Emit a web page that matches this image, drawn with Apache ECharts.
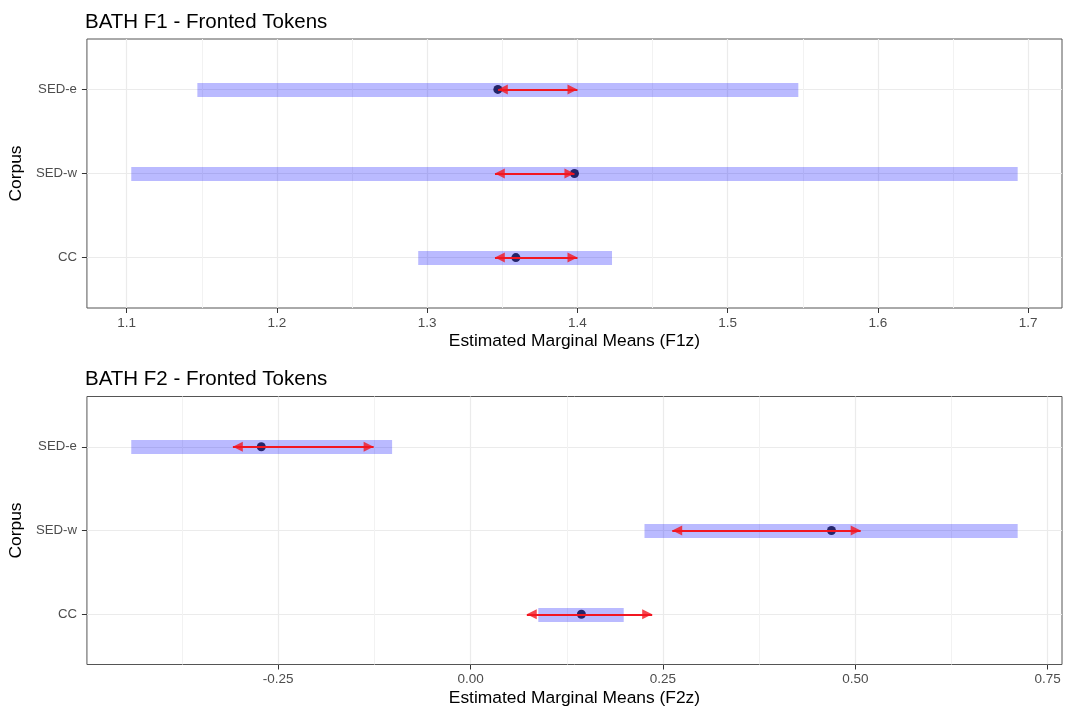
<!DOCTYPE html>
<html>
<head>
<meta charset="utf-8">
<script src="https://cdn.jsdelivr.net/npm/echarts@6/dist/echarts.min.js"></script>
<style>
html,body{margin:0;padding:0;background:#fff;}
#chart{width:1065px;height:709px;}
</style>
</head>
<body>
<div id="chart"></div>
<script>
// ---- data ----
const corpora = ['CC', 'SED-w', 'SED-e'];

// Panel 1: BATH F1
const f1Lower = [1.294, 1.103, 1.147];
const f1Upper = [1.423, 1.693, 1.547];
const f1Mean  = [1.359, 1.398, 1.347];
const f1ArrowLeft  = [1.345, 1.345, 1.347];
const f1ArrowRight = [1.400, 1.398, 1.400];
const f1Ticks = [1.1, 1.2, 1.3, 1.4, 1.5, 1.6, 1.7];
const f1MinorTicks = [1.15, 1.25, 1.35, 1.45, 1.55, 1.65];

// Panel 2: BATH F2
const f2Lower = [0.088, 0.226, -0.441];
const f2Upper = [0.199, 0.711, -0.102];
const f2Mean  = [0.144, 0.469, -0.272];
const f2ArrowLeft  = [0.073, 0.262, -0.309];
const f2ArrowRight = [0.236, 0.507, -0.126];
const f2Ticks = [-0.25, 0, 0.25, 0.5, 0.75];
const f2MinorTicks = [-0.375, -0.125, 0.125, 0.375, 0.625];

const titles = ['BATH F1 - Fronted Tokens', 'BATH F2 - Fronted Tokens'];
const xNames = ['Estimated Marginal Means (F1z)', 'Estimated Marginal Means (F2z)'];
const yName = 'Corpus';

// ---- chart ----
const FONT = '"Liberation Sans", Arial, Helvetica, sans-serif';
const chart = echarts.init(document.getElementById('chart'), null, {renderer: 'canvas'});

function extent(lo, hi) {
  const a = Math.min.apply(null, lo), b = Math.max.apply(null, hi);
  const p = (b - a) * 0.05;
  return [a - p, b + p];
}
const e1 = extent(f1Lower, f1Upper);
const e2 = extent(f2Lower, f2Upper);
const catValues = corpora.map((c, i) => i + 1);

const grids = [
  {left: 84, right: 3, top: 39, height: 269},
  {left: 84, right: 3, top: 396.5, height: 268}
];

function mkX(idx, ext, ticks, fmt, name) {
  return {
    type: 'value', gridIndex: idx, min: ext[0], max: ext[1], position: 'bottom',
    name: name, nameLocation: 'middle', nameGap: 25,
    nameTextStyle: {fontFamily: FONT, fontSize: 17.4, color: '#000'},
    axisLine: {show: false, onZero: false},
    axisTick: {show: true, length: 5, lineStyle: {color: '#333', width: 1}, customValues: ticks},
    axisLabel: {customValues: ticks, formatter: fmt, fontFamily: FONT, fontSize: 13.5, color: '#4D4D4D', margin: 8},
    splitLine: {show: true, lineStyle: {color: '#EBEBEB', width: 1.2}},
    minorTick: {show: false}, minorSplitLine: {show: false}
  };
}
function mkXMinor(idx, ext, minor) {
  return {
    type: 'value', gridIndex: idx, min: ext[0], max: ext[1], position: 'bottom',
    axisLine: {show: false, onZero: false},
    axisTick: {show: false, customValues: minor},
    axisLabel: {show: false, customValues: minor},
    splitLine: {show: true, lineStyle: {color: '#F2F2F2', width: 1}}
  };
}
function mkY(idx) {
  return {
    type: 'value', gridIndex: idx, min: 0.4, max: 3.6, position: 'left',
    name: yName, nameLocation: 'middle', nameGap: 55, nameRotate: 90,
    nameTextStyle: {fontFamily: FONT, fontSize: 17.4, color: '#000'},
    axisLine: {show: false, onZero: false},
    axisTick: {show: true, length: 5, lineStyle: {color: '#333', width: 1}, customValues: catValues},
    axisLabel: {customValues: catValues, formatter: v => corpora[Math.round(v) - 1] || '',
      fontFamily: FONT, fontSize: 13.2, color: '#4D4D4D', margin: 10},
    splitLine: {show: true, lineStyle: {color: '#EBEBEB', width: 1.2}}
  };
}

function panelSeries(xi, yi, lower, upper, mean, aL, aR) {
  const base = {xAxisIndex: xi, yAxisIndex: yi, silent: true};
  const AH = 10;
  return [
    Object.assign({
      type: 'scatter', z: 2, symbol: 'circle', symbolSize: 9,
      itemStyle: {color: '#000'},
      data: mean.map((m, i) => [m, catValues[i]])
    }, base),
    Object.assign({
      type: 'lines', coordinateSystem: 'cartesian2d', z: 3,
      symbol: ['none', 'none'],
      lineStyle: {color: 'rgba(0,0,255,0.27)', width: 14, opacity: 1, cap: 'butt'},
      data: lower.map((l, i) => ({coords: [[l, catValues[i]], [upper[i], catValues[i]]]}))
    }, base),
    Object.assign({
      type: 'lines', coordinateSystem: 'cartesian2d', z: 4,
      symbol: ['none', 'none'],
      lineStyle: {color: '#F21620', width: 2, opacity: 1, cap: 'butt'},
      data: aL.map((l, i) => ({coords: [[l + 0.0001, catValues[i]], [aR[i], catValues[i]]]}))
    }, base),
    // left arrowheads (tip at arrow's left end)
    Object.assign({
      type: 'scatter', z: 5, symbol: 'triangle', symbolSize: [AH, AH], symbolRotate: 90, symbolOffset: [AH / 2, 0],
      itemStyle: {color: '#F21620'},
      data: aL.map((l, i) => [l, catValues[i]])
    }, base),
    // right arrowheads (tip at arrow's right end)
    Object.assign({
      type: 'scatter', z: 5, symbol: 'triangle', symbolSize: [AH, AH], symbolRotate: -90, symbolOffset: [-AH / 2, 0],
      itemStyle: {color: '#F21620'},
      data: aR.map((r, i) => [r, catValues[i]])
    }, base)
  ];
}

const option = {
  animation: false,
  backgroundColor: '#fff',
  textStyle: {fontFamily: FONT},
  title: [
    {text: titles[0], left: 80, top: 7, textStyle: {fontFamily: FONT, fontSize: 20.5, fontWeight: 'normal', color: '#000'}},
    {text: titles[1], left: 80, top: 364, textStyle: {fontFamily: FONT, fontSize: 20.5, fontWeight: 'normal', color: '#000'}}
  ],
  grid: grids.map(g => Object.assign({show: true, borderColor: '#555', borderWidth: 1, backgroundColor: 'transparent', containLabel: false}, g)),
  xAxis: [
    mkX(0, e1, f1Ticks, v => v.toFixed(1), xNames[0]),
    mkXMinor(0, e1, f1MinorTicks),
    mkX(1, e2, f2Ticks, v => v.toFixed(2), xNames[1]),
    mkXMinor(1, e2, f2MinorTicks)
  ],
  yAxis: [mkY(0), mkY(1)],
  series: [].concat(
    panelSeries(0, 0, f1Lower, f1Upper, f1Mean, f1ArrowLeft, f1ArrowRight),
    panelSeries(2, 1, f2Lower, f2Upper, f2Mean, f2ArrowLeft, f2ArrowRight)
  )
};
chart.setOption(option);
</script>
</body>
</html>
